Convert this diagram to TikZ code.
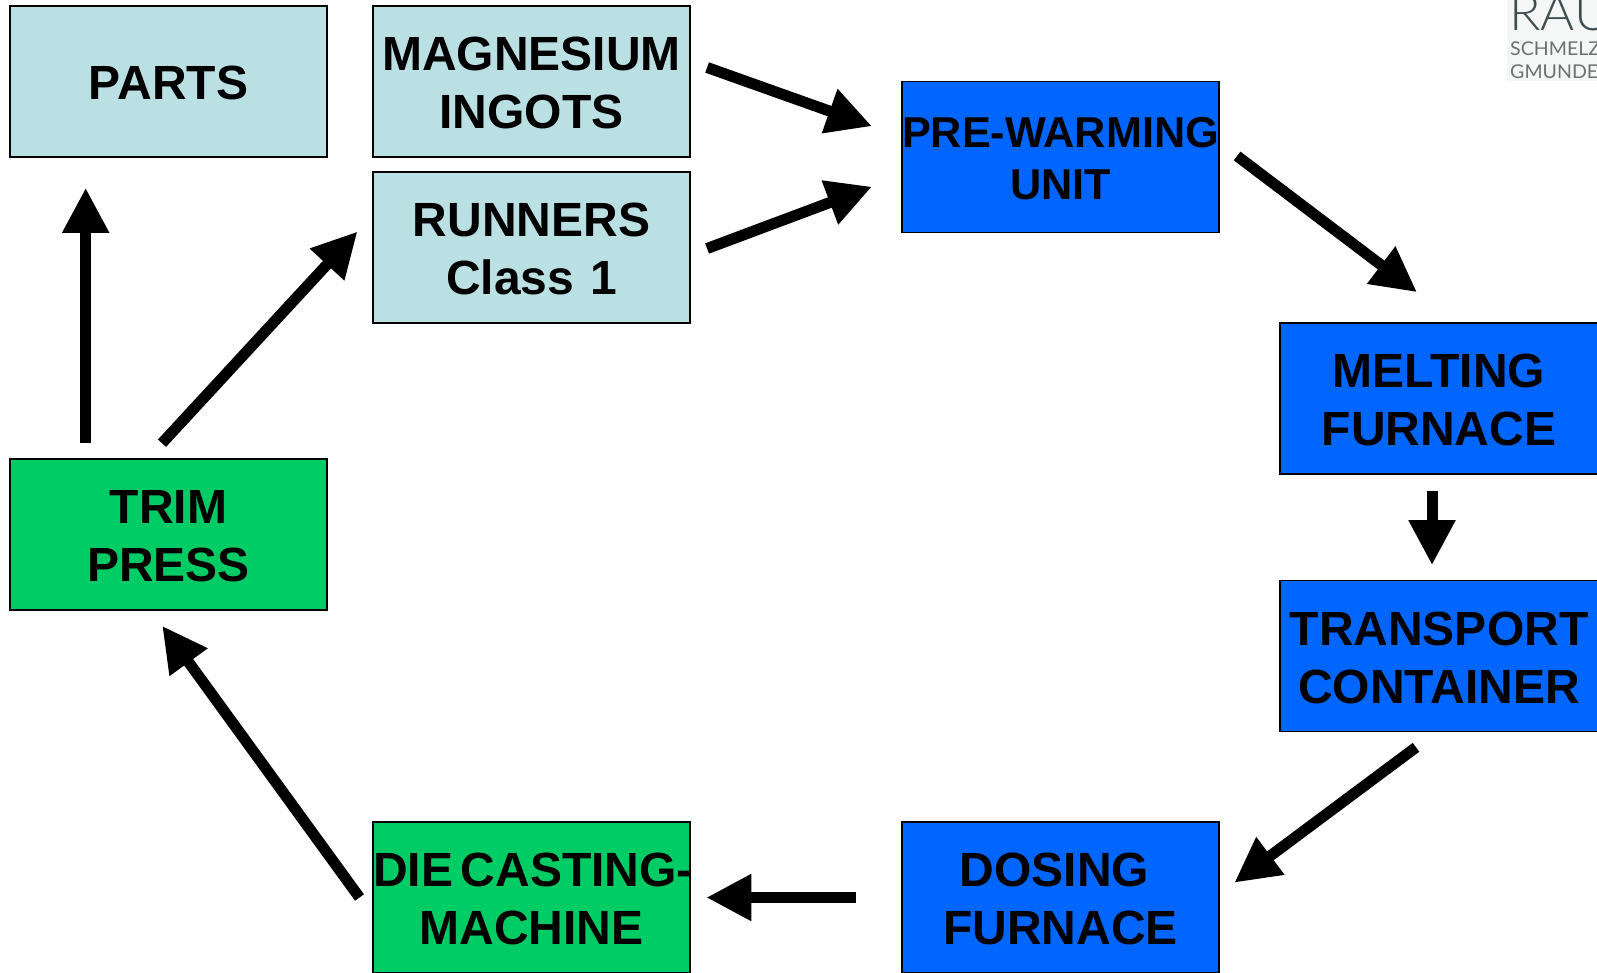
\documentclass[tikz,border=0pt]{standalone}
\usepackage{fontspec}
\setmainfont{Liberation Sans}
\newfontfamily\logofont[FakeStretch=1.04]{Lato Light}
\newfontfamily\logosmall[FakeStretch=1.03]{Lato}
\usetikzlibrary{arrows.meta}
\definecolor{paleblue}{HTML}{BBE0E3}
\definecolor{strongblue}{HTML}{0066FF}
\definecolor{stronggreen}{HTML}{00CC66}
\definecolor{logogrey}{HTML}{6A7272}
\definecolor{logodark}{HTML}{3F4F50}
\definecolor{logoback}{HTML}{F5F7F7}
\newcommand{\wideline}[1]{\makebox[300pt][c]{#1}}
\newcommand{\headroom}[1]{\rule{0pt}{#1}}
\tikzset{
  x=1pt,y=1pt,
  box/.style={draw=black,line width=1.6pt,anchor=north west,minimum width=317pt,minimum height=151pt,
    inner sep=0pt,text width=300pt,align=center,font=\fontsize{48}{58}\selectfont\bfseries},
  pale/.style={box,fill=paleblue},
  blue/.style={box,fill=strongblue},
  green/.style={box,fill=stronggreen},
  flow/.style={line width=11pt,-{Triangle[length=45pt,width=44pt]}},
  logotxt/.style={anchor=base west,inner sep=0pt}
}
\begin{document}
\begin{tikzpicture}
\useasboundingbox (0,0) rectangle (1597,-972);
\begin{scope}
\clip (0,0) rectangle (1597,-972);
\fill[logoback] (1507,0) rectangle (1597,-81);
\node[logotxt,text=logodark,font=\fontsize{50}{50}\logofont] (logoa) at (1509,-30.5) {RAU};
\node[logotxt,text=logogrey,font=\fontsize{19}{19}\logosmall] (logob) at (1510,-55) {SCHMELZ};
\node[logotxt,text=logogrey,font=\fontsize{19}{19}\logosmall] (logoc) at (1510,-78) {GMUNDEN};
\node[pale] (parts) at (9.2,-5.2) {\headroom{36.5pt}PARTS};
\node[pale] (ingots) at (372.2,-5.2) {\headroom{36.5pt}MAGNESIUM\\INGOTS};
\node[pale] (runners) at (372.2,-171.2) {\headroom{36.5pt}RUNNERS\\Class 1};
\node[blue,font=\fontsize{43.2}{52.5}\selectfont\bfseries] (prewarm) at (901.2,-80.7) {\headroom{33pt}\wideline{PRE-WARMING}\\UNIT};
\node[blue,minimum width=318pt] (melting) at (1279.2,-322.2) {\headroom{36.5pt}MELTING\\FURNACE};
\node[blue,minimum width=318pt] (transport) at (1279.2,-579.7) {\headroom{36.5pt}\wideline{TRANSPORT}\\CONTAINER};
\node[blue] (dosing) at (901.2,-821.2) {\headroom{36.5pt}DOSING\rule{12pt}{0pt}\\FURNACE};
\node[green] (diecast) at (372.2,-821.2) {\headroom{36.5pt}\wideline{\rule{3pt}{0pt}DIE\hspace{8pt}CASTING-}\\MACHINE};
\node[green] (trim) at (9.2,-458.2) {\headroom{36.5pt}TRIM\\PRESS};
\end{scope}
\draw[flow] ([shift={(76.5,15)}]trim.north west) -- ([shift={(76.5,-30)}]parts.south west);
\draw[flow] ([shift={(152.8,15)}]trim.north west) -- ([shift={(-14.7,16)}]runners.west);
\draw[flow] ([shift={(16.3,14)}]ingots.east) -- ([shift={(-29.2,-45.5)}]prewarm.north west);
\draw[flow] ([shift={(16.3,-1)}]runners.east) -- ([shift={(-29.2,-106)}]prewarm.north west);
\draw[flow] ([shift={(17.3,1)}]prewarm.east) -- ([shift={(137.8,30)}]melting.north west);
\draw[flow] ([shift={(152.8,-16)}]melting.south west) -- ([shift={(152.8,14.5)}]transport.north west);
\draw[flow] ([shift={(136.8,-15)}]transport.south west) -- ([shift={(14.5,-61.5)}]dosing.north east);
\draw[flow] ([shift={(-45.5,0)}]dosing.west) -- ([shift={(15.5,0)}]diecast.east);
\draw[flow] ([shift={(-12.7,0)}]diecast.west) -- ([shift={(153,-15)}]trim.south west);
\end{tikzpicture}
\end{document}
